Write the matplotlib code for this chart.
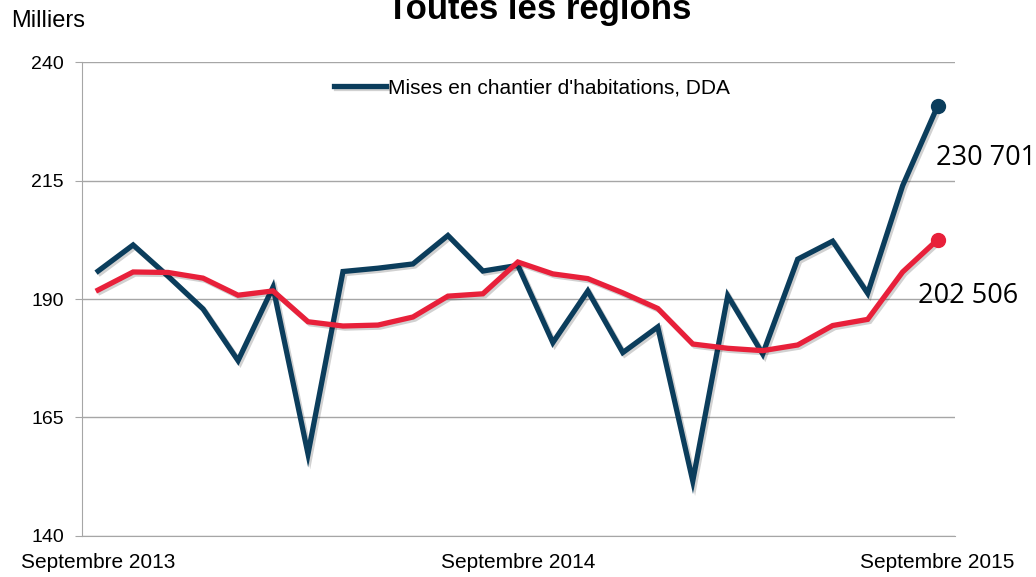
import matplotlib
matplotlib.use("Agg")
import matplotlib.pyplot as plt
import matplotlib.patheffects as pe

# monthly series, Sept 2013 -> Sept 2015 (thousands)
mois = list(range(25))
mises_en_chantier = [195.9, 201.4, 194.8, 187.9, 177.0, 192.5, 157.3, 195.8, 196.5, 197.4,
                     203.4, 195.9, 197.1, 180.8, 191.7, 178.7, 184.1, 151.6, 190.7, 178.4,
                     198.4, 202.2, 191.2, 213.9, 230.701]
moyenne = [191.9, 195.7, 195.6, 194.4, 190.8, 191.7, 185.2, 184.3, 184.5, 186.2,
           190.6, 191.1, 197.8, 195.3, 194.3, 191.3, 188.0, 180.5, 179.6, 179.1,
           180.3, 184.4, 185.7, 195.7, 202.506]
tick_pos = [0, 12, 24]
tick_labels = ["Septembre 2013", "Septembre 2014", "Septembre 2015"]
y_ticks = [140, 165, 190, 215, 240]

BLUE = "#0b3d5c"
RED = "#e8203a"
GRID = "#a6a6a6"

plt.rcParams['font.family'] = ['Liberation Sans', 'DejaVu Sans']

fig = plt.figure(figsize=(10.36, 5.77), dpi=100)
ax = fig.add_axes([0.0792, 0.0711, 0.8427, 0.8214])

shadow = [pe.SimpleLineShadow(offset=(1.5, -1.5), shadow_color="#000000", alpha=0.18), pe.Normal()]

ax.plot(mois, mises_en_chantier, color=BLUE, lw=3.8, solid_joinstyle="miter",
        label="Mises en chantier d'habitations, DDA", path_effects=shadow, zorder=3)
ax.plot(mois, moyenne, color=RED, lw=3.8, solid_joinstyle="miter",
        path_effects=shadow, zorder=4)
ax.plot(mois[-1], mises_en_chantier[-1], "o", color=BLUE, ms=10, zorder=5)
ax.plot(mois[-1], moyenne[-1], "o", color=RED, ms=10, zorder=5)

ax.text(mois[-1] - 0.05, mises_en_chantier[-1] - 10.9, "230 701", fontsize=19.5,
        family=["Open Sans", "DejaVu Sans"], va="center", ha="left", clip_on=False)
ax.text(mois[-1] - 0.55, moyenne[-1] - 11.8, "202 506", fontsize=19.5,
        family=["Open Sans", "DejaVu Sans"], va="center", ha="left", clip_on=False)

ax.set_ylim(140, 240)
ax.set_xlim(-0.46, 24.5)
ax.set_yticks(y_ticks)
ax.set_xticks(tick_pos)
ax.set_xticklabels(tick_labels)
ax.grid(axis="y", color=GRID, lw=1)
ax.set_axisbelow(True)
for s in ["top", "right"]:
    ax.spines[s].set_visible(False)
for s in ["left", "bottom"]:
    ax.spines[s].set_color(GRID)
ax.tick_params(axis="y", length=5, color=GRID, labelsize=14, pad=8)
ax.tick_params(axis="x", length=0, labelsize=15, pad=12)

leg = ax.legend(loc="upper center", bbox_to_anchor=(0.515, 1.005), frameon=False,
                fontsize=15, handlelength=2.5, handletextpad=0.1)

fig.text(0.011, 0.963, "Milliers", fontsize=17, va="center", ha="left")
fig.text(0.52, 0.983, "Toutes les régions", fontsize=25, fontweight="bold",
         va="center", ha="center")

fig.savefig("out.png", dpi=100)
